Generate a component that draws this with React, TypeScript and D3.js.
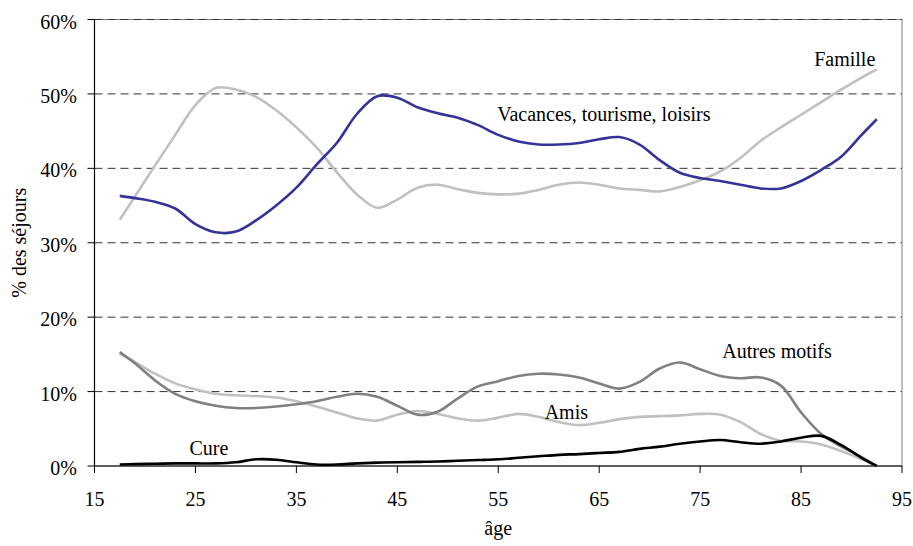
import React from 'react';
import * as d3 from 'd3';

// Motifs de séjour selon l'âge du voyageur
const ages = [17.5, 19, 21, 23, 25, 27, 29, 31, 33, 35, 37, 39, 41, 43, 45, 47, 49, 51, 53, 55, 57, 59, 61, 63, 65, 67, 69, 71, 73, 75, 77, 79, 81, 83, 85, 87, 89, 91, 92.5];

const vacances = [36.3, 36.0, 35.5, 34.6, 32.5, 31.4, 31.5, 33.0, 35.0, 37.4, 40.5, 43.4, 47.3, 49.7, 49.5, 48.2, 47.4, 46.8, 45.8, 44.5, 43.6, 43.2, 43.2, 43.4, 43.9, 44.2, 43.2, 41.1, 39.4, 38.7, 38.3, 37.8, 37.3, 37.3, 38.3, 39.8, 41.6, 44.5, 46.6];
const famille = [33.1, 36.2, 40.4, 44.5, 48.5, 50.8, 50.6, 49.6, 47.8, 45.5, 42.8, 39.5, 36.5, 34.7, 35.8, 37.4, 37.8, 37.2, 36.7, 36.5, 36.6, 37.1, 37.8, 38.1, 37.8, 37.3, 37.1, 36.9, 37.5, 38.4, 39.6, 41.4, 43.7, 45.5, 47.2, 48.9, 50.6, 52.2, 53.3];
const autres = [15.3, 13.8, 11.5, 9.7, 8.7, 8.1, 7.8, 7.8, 8.0, 8.3, 8.7, 9.3, 9.7, 9.3, 8.1, 6.9, 7.3, 9.1, 10.7, 11.4, 12.1, 12.4, 12.3, 11.9, 11.1, 10.4, 11.3, 13.1, 13.9, 13.0, 12.1, 11.8, 11.9, 10.8, 7.2, 4.3, 2.6, 1.2, 0];
const amis = [15.1, 14.0, 12.4, 11.1, 10.3, 9.7, 9.5, 9.4, 9.2, 8.7, 8.0, 7.2, 6.4, 6.1, 6.9, 7.4, 7.0, 6.4, 6.1, 6.5, 7.0, 6.6, 5.9, 5.5, 5.8, 6.3, 6.6, 6.7, 6.8, 7.0, 6.9, 5.9, 4.3, 3.4, 3.3, 2.9, 2.0, 0.9, 0];
const cure = [0.2, 0.25, 0.3, 0.35, 0.35, 0.35, 0.5, 0.9, 0.85, 0.5, 0.2, 0.2, 0.35, 0.45, 0.5, 0.55, 0.6, 0.7, 0.8, 0.9, 1.1, 1.3, 1.5, 1.6, 1.75, 1.9, 2.3, 2.6, 3.0, 3.3, 3.5, 3.2, 3.0, 3.3, 3.8, 4.05, 2.8, 1.1, 0];

const xTicks = [15, 25, 35, 45, 55, 65, 75, 85, 95];
const yTicks = [0, 10, 20, 30, 40, 50, 60];

const series = [
  { name: 'Famille', values: famille, color: '#c0c0c0' },
  { name: 'Vacances, tourisme, loisirs', values: vacances, color: '#333399' },
  { name: 'Amis', values: amis, color: '#c0c0c0' },
  { name: 'Autres motifs', values: autres, color: '#808080' },
  { name: 'Cure', values: cure, color: '#000000' },
];

// label positions (data coords) next to each curve
const labels = [
  { text: 'Famille', x: 86.3, y: 53.8 },
  { text: 'Vacances, tourisme, loisirs', x: 54.9, y: 46.4 },
  { text: 'Autres motifs', x: 77.2, y: 14.5 },
  { text: 'Amis', x: 59.6, y: 6.3 },
  { text: 'Cure', x: 24.4, y: 1.5 },
];

const W = 913;
const H = 546;
const txt = {
  fontFamily: "'Liberation Serif', 'DejaVu Serif', 'Noto Serif', 'Times New Roman', serif",
  fontSize: '20px',
};

export default function App() {
  const x = d3.scaleLinear().domain([15, 95]).range([94.5, 902]);
  const y = d3.scaleLinear().domain([0, 60]).range([466, 19.5]);

  const line = (vals: number[]) =>
    d3
      .line<number>()
      .x((_, i) => x(ages[i]))
      .y((d) => y(d))
      .curve(d3.curveCatmullRom.alpha(0.5))(vals) || '';

  return (
    <div style={{ position: 'absolute', left: 0, top: 0 }}>
      <svg width={W} height={H} viewBox={`0 0 ${W} ${H}`} style={{ display: 'block', background: '#fff' }}>
        {/* plot border */}
        <rect x={x(15)} y={y(60)} width={x(95) - x(15)} height={y(0) - y(60)} fill="none" stroke="#808080" strokeWidth={1} />
        {/* gridlines */}
        {yTicks.filter((t) => t > 0).map((t) => (
          <line key={t} x1={x(15)} x2={x(95)} y1={y(t)} y2={y(t)} stroke="#333" strokeWidth={1} strokeDasharray="8,5" />
        ))}
        {/* axes */}
        <line x1={x(15)} x2={x(15)} y1={y(60)} y2={y(0)} stroke="#000" strokeWidth={1.2} />
        <line x1={x(15)} x2={x(95)} y1={y(0)} y2={y(0)} stroke="#000" strokeWidth={1.2} />
        {yTicks.map((t) => (
          <g key={t}>
            <line x1={x(15) - 7} x2={x(15)} y1={y(t)} y2={y(t)} stroke="#000" strokeWidth={1} />
            <text x={77} y={y(t) + 9} textAnchor="end" style={txt} fill="#000">
              {t}%
            </text>
          </g>
        ))}
        {xTicks.map((t) => (
          <g key={t}>
            <line x1={x(t)} x2={x(t)} y1={y(0)} y2={y(0) + 7} stroke="#000" strokeWidth={1} />
            <text x={x(t)} y={506} textAnchor="middle" style={txt} fill="#000">
              {t}
            </text>
          </g>
        ))}
        {/* series */}
        {series.map((s) => (
          <path key={s.name} d={line(s.values)} fill="none" stroke={s.color} strokeWidth={2.6} strokeLinejoin="round" />
        ))}
        {labels.map((l) => (
          <text key={l.text} x={x(l.x)} y={y(l.y)} style={txt} fill="#000">
            {l.text}
          </text>
        ))}
        {/* axis titles */}
        <text x={(x(15) + x(95)) / 2} y={535} textAnchor="middle" style={txt} fill="#000">
          âge
        </text>
        <text transform={`translate(26,${(y(0) + y(60)) / 2}) rotate(-90)`} textAnchor="middle" style={txt} fill="#000">
          % des séjours
        </text>
      </svg>
    </div>
  );
}
